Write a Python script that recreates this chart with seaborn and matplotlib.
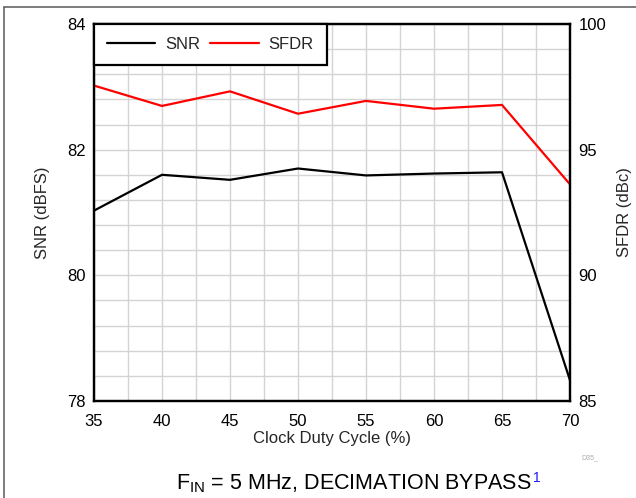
import numpy as np
import pandas as pd
import matplotlib
matplotlib.use("Agg")
import matplotlib.pyplot as plt
from matplotlib.ticker import FixedLocator, MultipleLocator
from matplotlib.lines import Line2D
import seaborn as sns

duty_cycle = [35, 40, 45, 50, 55, 60, 65, 70]
snr = [81.03, 81.60, 81.52, 81.70, 81.59, 81.62, 81.64, 78.33]
sfdr = [97.55, 96.74, 97.32, 96.43, 96.94, 96.63, 96.78, 93.62]
snr_ticks = [78, 80, 82, 84]
sfdr_ticks = [85, 90, 95, 100]
x_ticks = [35, 40, 45, 50, 55, 60, 65, 70]

sns.set_style("white")
plt.rcParams['font.family'] = ['Liberation Sans', 'DejaVu Sans']

df = pd.DataFrame({"duty": duty_cycle, "SNR": snr, "SFDR": sfdr})

fig = plt.figure(figsize=(6.36, 4.98), dpi=100)
ax = fig.add_axes([94/636, 1 - 401/498, (570-94)/636, (401-24)/498])
ax2 = ax.twinx()

sns.lineplot(data=df, x="duty", y="SNR", ax=ax, color="black", lw=1.6)
sns.lineplot(data=df, x="duty", y="SFDR", ax=ax2, color="#ff0000", lw=1.6)

ax.set_xlim(35, 70)
ax.set_ylim(78, 84)
ax2.set_ylim(85, 100)
ax.set_xticks(x_ticks)
ax.set_yticks(snr_ticks)
ax2.set_yticks(sfdr_ticks)
ax.xaxis.set_minor_locator(MultipleLocator(2.5))
ax.yaxis.set_minor_locator(FixedLocator(list(np.linspace(78, 84, 16))))
ax.grid(which="both", color="#d4d4d4", lw=1.0)
ax.set_axisbelow(True)

for a in (ax, ax2):
    a.tick_params(which="both", length=0, labelsize=12, colors="black", pad=6)
    for s in a.spines.values():
        s.set_color("black")
        s.set_linewidth(1.6)
ax.tick_params(axis="x", pad=9)

ax.set_xlabel("Clock Duty Cycle (%)", fontsize=12, labelpad=2)
ax.set_ylabel("SNR (dBFS)", fontsize=12, labelpad=12)
ax2.set_ylabel("SFDR (dBc)", fontsize=12, labelpad=8)

handles = [Line2D([], [], color="black", lw=1.6), Line2D([], [], color="#ff0000", lw=1.6)]
leg = ax2.legend(handles, ["SNR", "SFDR"], loc="upper left", ncol=2, fontsize=12,
                 frameon=True, fancybox=False, borderaxespad=0, handlelength=2.9,
                 columnspacing=0.6, handletextpad=0.6, borderpad=0.78)
leg.get_frame().set_edgecolor("black")
leg.get_frame().set_linewidth(1.6)
leg.get_frame().set_alpha(1)

# figure border lines
fig.add_artist(Line2D([4/636, 1], [1 - 7/498, 1 - 7/498], transform=fig.transFigure, color="#666666", lw=1.2))
fig.add_artist(Line2D([4/636, 4/636], [0, 1 - 7/498], transform=fig.transFigure, color="#666666", lw=1.2))

fig.text(590/636, 1 - 458/498, "D35_", fontsize=5, color="#aaaaaa", ha="center", va="center")
cap = fig.text(354/636, 1 - 484/498, r"F$_\mathregular{IN}$ = 5 MHz, DECIMATION BYPASS", fontsize=15.5,
               ha="center", va="center", color="black")
fig.canvas.draw()
bb = cap.get_window_extent(fig.canvas.get_renderer())
fig.text((bb.x1 + 1) / fig.bbox.width, (bb.y1 + 2) / fig.bbox.height, "1", fontsize=10,
         color="#1a1aff", ha="left", va="top")
fig.savefig("out.png", dpi=100)
